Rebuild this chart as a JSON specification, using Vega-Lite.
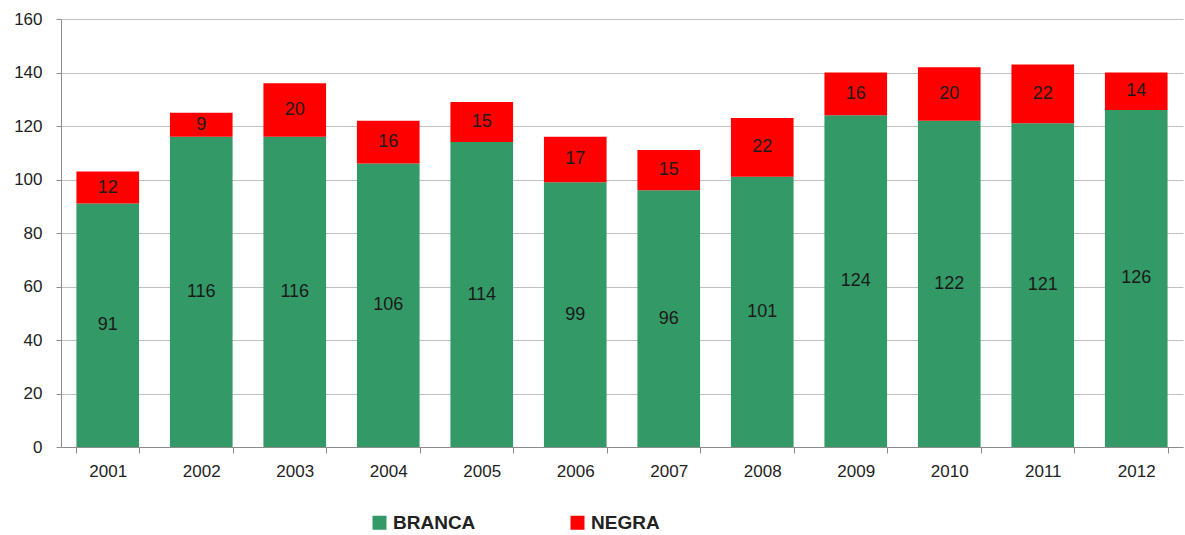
{
  "$schema": "https://vega.github.io/schema/vega-lite/v6.json",
  "autosize": "none",
  "width": 1122,
  "height": 428,
  "padding": {"left": 61, "top": 19, "right": 2, "bottom": 88},
  "background": "white",
  "config": {
    "view": {"stroke": null},
    "font": "Liberation Sans",
    "axis": {"labelFont": "Liberation Sans", "labelFontSize": 17, "labelColor": "#222222", "domainColor": "#8c8c8c", "tickColor": "#8c8c8c", "gridColor": "#c0c0c0", "title": null}
  },
  "data": {
    "values": [
      {"year": "2001", "cor": "BRANCA", "n": 91}, {"year": "2001", "cor": "NEGRA", "n": 12},
      {"year": "2002", "cor": "BRANCA", "n": 116}, {"year": "2002", "cor": "NEGRA", "n": 9},
      {"year": "2003", "cor": "BRANCA", "n": 116}, {"year": "2003", "cor": "NEGRA", "n": 20},
      {"year": "2004", "cor": "BRANCA", "n": 106}, {"year": "2004", "cor": "NEGRA", "n": 16},
      {"year": "2005", "cor": "BRANCA", "n": 114}, {"year": "2005", "cor": "NEGRA", "n": 15},
      {"year": "2006", "cor": "BRANCA", "n": 99}, {"year": "2006", "cor": "NEGRA", "n": 17},
      {"year": "2007", "cor": "BRANCA", "n": 96}, {"year": "2007", "cor": "NEGRA", "n": 15},
      {"year": "2008", "cor": "BRANCA", "n": 101}, {"year": "2008", "cor": "NEGRA", "n": 22},
      {"year": "2009", "cor": "BRANCA", "n": 124}, {"year": "2009", "cor": "NEGRA", "n": 16},
      {"year": "2010", "cor": "BRANCA", "n": 122}, {"year": "2010", "cor": "NEGRA", "n": 20},
      {"year": "2011", "cor": "BRANCA", "n": 121}, {"year": "2011", "cor": "NEGRA", "n": 22},
      {"year": "2012", "cor": "BRANCA", "n": 126}, {"year": "2012", "cor": "NEGRA", "n": 14}
    ]
  },
  "transform": [
    {"calculate": "datum.cor === 'BRANCA' ? 0 : 1", "as": "ord"},
    {"stack": "n", "groupby": ["year"], "sort": [{"field": "ord", "order": "ascending"}], "as": ["y0", "y1"]},
    {"calculate": "(datum.y0 + datum.y1) / 2", "as": "ymid"}
  ],
  "encoding": {
    "x": {
      "field": "year", "type": "nominal",
      "scale": {"paddingInner": 0.33, "paddingOuter": 0.165},
      "axis": {"labelAngle": 0, "tickBand": "extent", "tickSize": 6, "labelPadding": 10, "labelFontSize": 17}
    }
  },
  "layer": [
    {
      "mark": {"type": "bar"},
      "encoding": {
        "y": {"field": "y0", "type": "quantitative", "scale": {"domain": [0, 160]},
              "axis": {"values": [0, 20, 40, 60, 80, 100, 120, 140, 160], "tickSize": 5, "labelPadding": 14, "grid": true, "labelFontSize": 17}},
        "y2": {"field": "y1"},
        "color": {
          "field": "cor", "type": "nominal",
          "scale": {"domain": ["BRANCA", "NEGRA"], "range": ["#339966", "#ff0000"]},
          "legend": {
            "title": null, "orient": "none", "direction": "horizontal",
            "legendX": 309, "legendY": 494,
            "symbolType": "square", "symbolSize": 196, "symbolStrokeWidth": 0,
            "labelFont": "Liberation Sans", "labelFontSize": 19, "labelFontWeight": "bold",
            "labelColor": "#222222", "labelOffset": 4, "columnPadding": 92
          }
        }
      }
    },
    {
      "mark": {"type": "text", "fontSize": 18, "color": "#1a1a1a", "baseline": "middle"},
      "encoding": {
        "y": {"field": "ymid", "type": "quantitative"},
        "text": {"field": "n", "type": "quantitative"}
      }
    }
  ]
}
